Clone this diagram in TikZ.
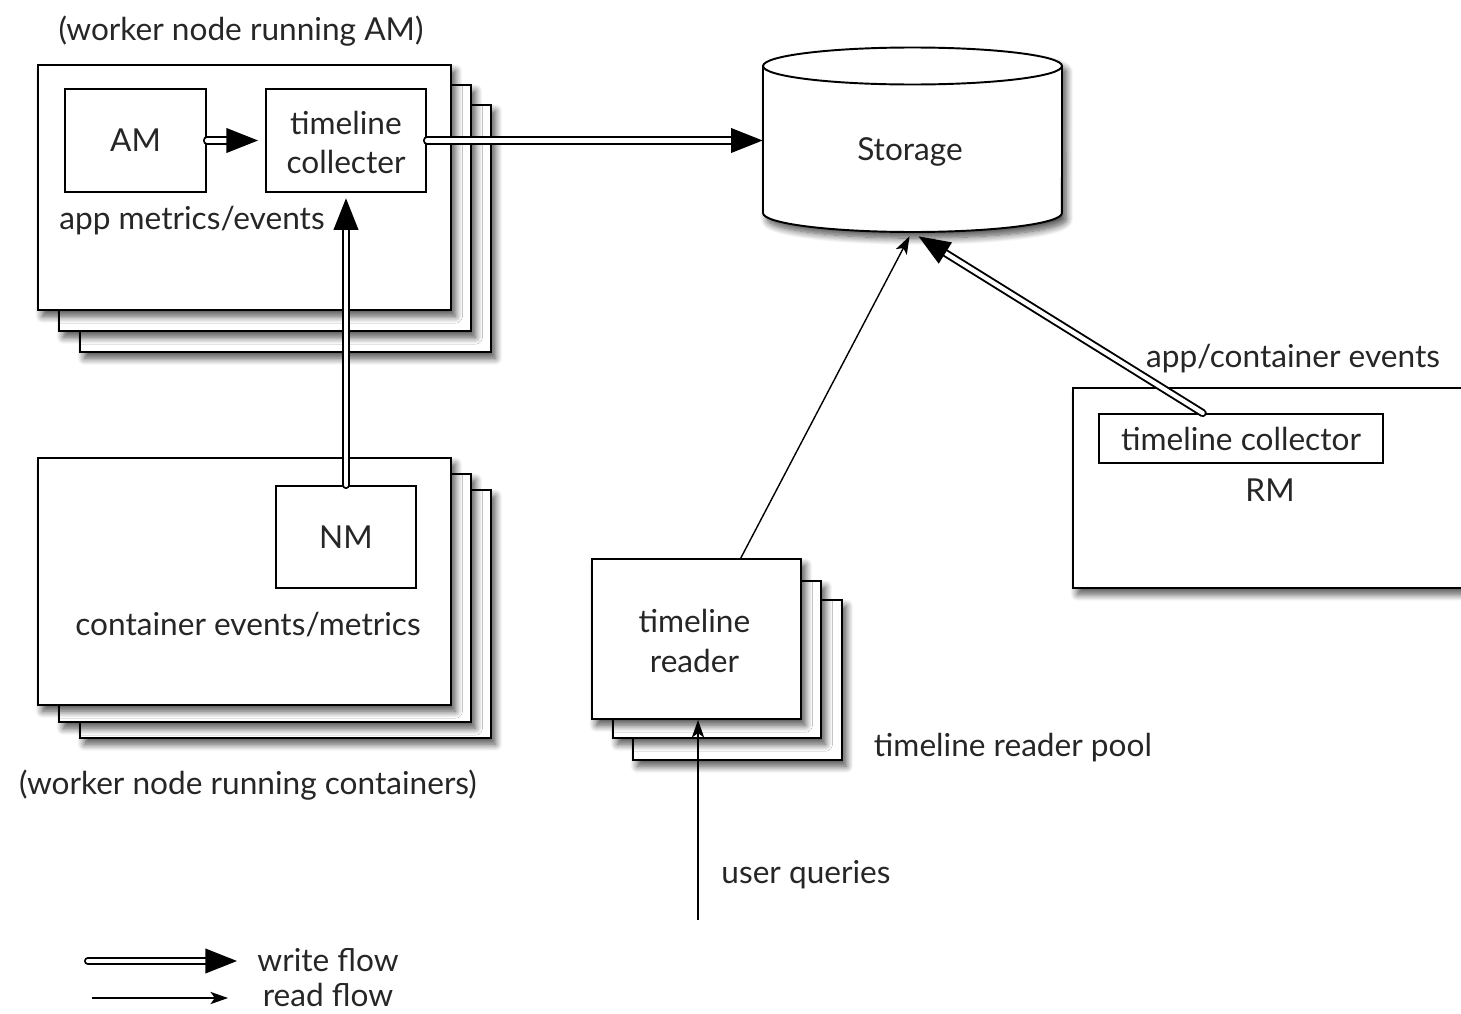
\documentclass[tikz,border=0pt]{standalone}
\usepackage{fontspec}
\setmainfont{Lato}
\usetikzlibrary{arrows.meta,fit,calc,shadows.blur}

\begin{document}
\begin{tikzpicture}[x=0.02cm,y=-0.02cm,
  font=\fontsize{18}{22.5}\selectfont,
  every node/.style={text=black!85, align=center},
  box/.style={draw=black, line width=1.1pt, fill=white, inner sep=0pt},
  shadowed/.style={blur shadow={shadow xshift=2.5pt, shadow yshift=-3.5pt,
      shadow blur steps=10, shadow blur radius=4pt, shadow opacity=70}},
  stackbox/.style={box, shadowed},
  writeflow/.style={draw=black, double=white, double distance=2.4pt, line width=1.1pt,
      line cap=round, -{Triangle[length=18pt,width=14pt]}},
  readflow/.style={draw=black, line width=0.8pt, -{Stealth[length=10pt,width=7pt,inset=2.5pt]}},
  caption/.style={inner sep=0pt}
]
\useasboundingbox (0,0) rectangle (1461,1014);

% --- worker nodes running AM (stack of three)
\node[stackbox, fit={(80,105)(491,352)}] (amback) {};
\node[stackbox, fit={(59,85)(471,331)}] (ammid) {};
\node[stackbox, fit={(38,65)(451,310)}] (amfront) {};
\node[box, fit={(65,89)(206,192)}] (am) {};
\node at (am.center) {AM};
\node[box, fit={(266,89)(426,192)}] (tc) {};
\node at ($(tc.center)+(0,2)$) {timeline\\collecter};
\node[caption] (amcap) at (241,31) {(worker node running AM)};
\node[caption] (appev) at (192,221) {app metrics/events};

% --- worker nodes running containers (stack of three)
\node[stackbox, fit={(80,490)(491,738)}] (nmback) {};
\node[stackbox, fit={(59,474)(471,722)}] (nmmid) {};
\node[stackbox, fit={(38,458)(451,705)}] (nmfront) {};
\node[box, fit={(276,486)(416,588)}] (nm) {};
\node at (nm.center) {NM};
\node[caption] (ctev) at (248,625) {container events/metrics};
\node[caption] (nmcap) at (248,785) {(worker node running containers)};

% --- storage cylinder
\draw[line width=1.1pt, fill=white, shadowed]
  (763,66) -- (763,213)
  arc[start angle=180, end angle=360, x radius=2.99cm, y radius=0.38cm]
  -- (1062,66)
  arc[start angle=0, end angle=180, x radius=2.99cm, y radius=0.37cm] -- cycle;
\draw[line width=1.1pt]
  (763,66) arc[start angle=180, end angle=360, x radius=2.99cm, y radius=0.37cm];
\node[inner sep=0pt, fit={(763,48)(1062,232)}] (storage) {};
\node at (910,152) {Storage};

% --- resource manager (runs past the right edge)
\node[stackbox, fit={(1073,388)(1520,588)}] (rm) {};
\node[box, fit={(1099,414)(1383,463)}] (rtc) {};
\node at (rtc.center) {timeline collector};
\node (rmlabel) at (1270,490) {RM};
\node[caption] (rmev) at (1293,359) {app/container events};

% --- timeline reader pool (stack of three)
\node[stackbox, fit={(633,600)(842,760)}] (rdback) {};
\node[stackbox, fit={(613,581)(821,738)}] (rdmid) {};
\node[stackbox, fit={(592,559)(801,719)}] (reader) {};
\node at ($(reader.center)+(-2,2)$) {timeline\\reader};
\node[caption] (pool) at (1013,748) {timeline reader pool};
\node[caption] (uqlabel) at (806,875) {user queries};

% --- flows
\coordinate (rtcout) at ($(rtc.north west)!0.366!(rtc.north east)$);
\coordinate (stwrite) at ($(storage.south)+(6,4)$);
\coordinate (stread) at ($(storage.south)+(-3,4)$);
\coordinate (rdout) at ($(reader.north west)!0.71!(reader.north east)$);
\coordinate (uq) at (698,920);

\draw[writeflow, shorten >=4pt] (am.east) -- (tc.west);
\draw[writeflow] (tc.east) -- (tc.east -| storage.west);
\draw[writeflow, shorten >=3pt] (nm.north) -- (tc.south);
\draw[writeflow] (rtcout) -- (stwrite);
\draw[readflow] (rdout) -- (stread);
\draw[readflow] (uq) -- (uq |- reader.south);

% --- legend
\coordinate (lw1) at (88,961);
\coordinate (lw2) at (237,961);
\coordinate (lr1) at (92,998);
\coordinate (lr2) at (228,998);
\draw[writeflow] (lw1) -- (lw2);
\draw[readflow] (lr1) -- (lr2);
\node[caption] (lwtext) at (328,960) {write flow};
\node[caption] (lrtext) at (328,995) {read flow};
\end{tikzpicture}
\end{document}
